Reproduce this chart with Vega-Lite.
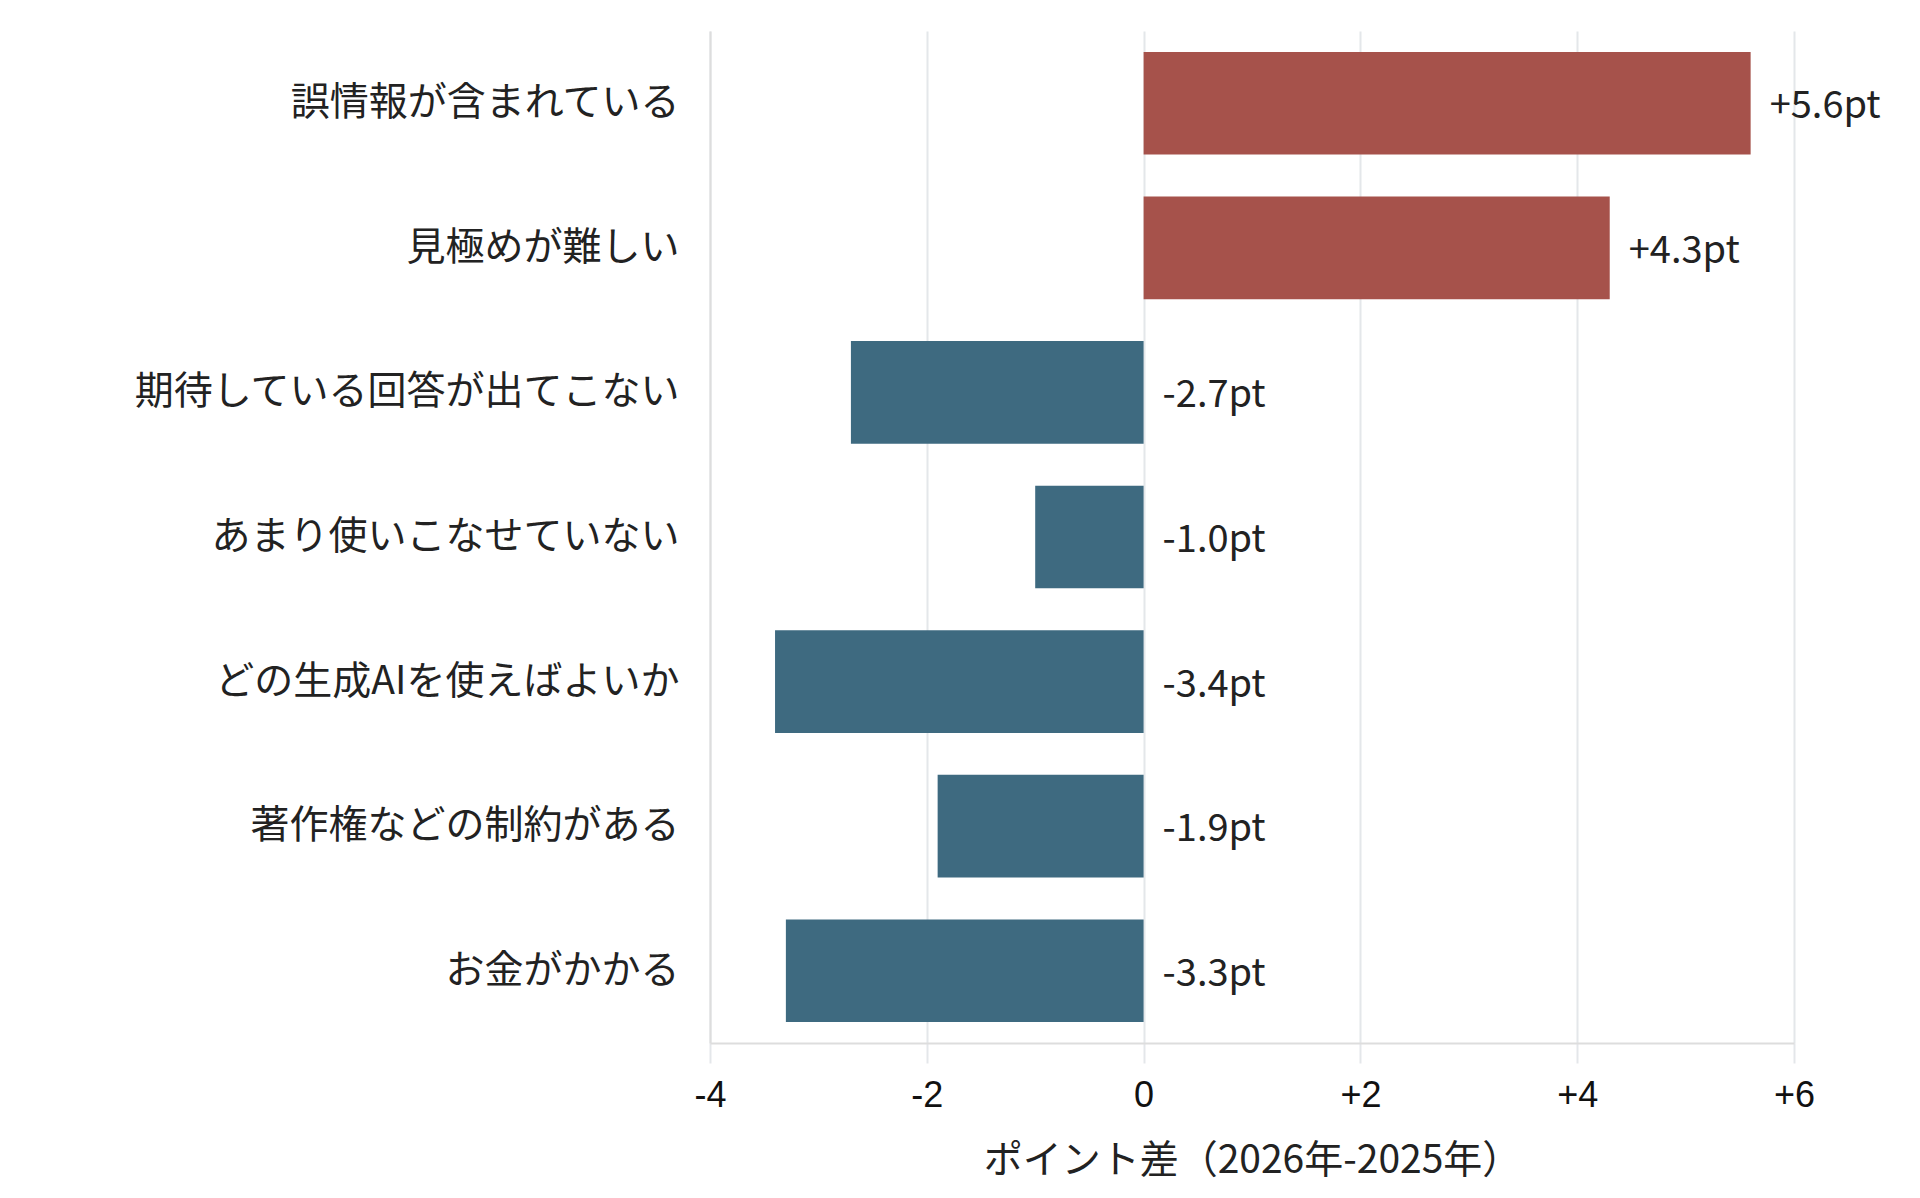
{
  "$schema": "https://vega.github.io/schema/vega-lite/v6.json",
  "width": 1084,
  "height": 1012,
  "autosize": {"type": "none"},
  "padding": {"left": 710, "top": 31, "right": 126, "bottom": 155},
  "background": "white",
  "config": {"view": {"stroke": null}},
  "data": {
    "values": [
      {"item": "誤情報が含まれている", "diff": 5.6},
      {"item": "見極めが難しい", "diff": 4.3},
      {"item": "期待している回答が出てこない", "diff": -2.7},
      {"item": "あまり使いこなせていない", "diff": -1.0},
      {"item": "どの生成AIを使えばよいか", "diff": -3.4},
      {"item": "著作権などの制約がある", "diff": -1.9},
      {"item": "お金がかかる", "diff": -3.3}
    ]
  },
  "transform": [
    {"calculate": "(datum.diff > 0 ? '+' : '-') + format(abs(datum.diff), '.1f') + 'pt'", "as": "label"}
  ],
  "encoding": {
    "y": {
      "field": "item",
      "type": "nominal",
      "sort": null,
      "title": null,
      "scale": {"paddingInner": 0.29, "paddingOuter": 0.145},
      "axis": {
        "ticks": false,
        "domain": true,
        "domainColor": "#dddddd",
        "domainWidth": 2,
        "labelFont": "Noto Sans CJK JP",
        "labelFontSize": 39,
        "labelColor": "#222222",
        "labelPadding": 31,
        "labelLimit": 700
      }
    }
  },
  "layer": [
    {
      "mark": {"type": "bar"},
      "encoding": {
        "x": {
          "field": "diff",
          "type": "quantitative",
          "scale": {"domain": [-4, 6], "nice": false},
          "title": "ポイント差（2026年-2025年）",
          "axis": {
            "values": [-4, -2, 0, 2, 4, 6],
            "labelExpr": "datum.value > 0 ? '+' + datum.value : '' + datum.value",
            "labelFlush": false,
            "grid": true,
            "gridColor": "#e4e7ea",
            "gridWidth": 2,
            "domainColor": "#dddddd",
            "domainWidth": 2,
            "tickColor": "#e4e7ea",
            "tickWidth": 2,
            "tickSize": 20,
            "labelFont": "Liberation Sans",
            "labelFontSize": 36,
            "labelColor": "#111111",
            "labelPadding": 15,
            "titleFont": "Noto Sans CJK JP",
            "titleFontSize": 39,
            "titleFontWeight": "normal",
            "titleColor": "#222222",
            "titlePadding": 28
          }
        },
        "color": {
          "condition": {"test": "datum.diff > 0", "value": "#A6524B"},
          "value": "#3E6A80"
        }
      }
    },
    {
      "transform": [{"filter": "datum.diff > 0"}],
      "mark": {"type": "text", "align": "left", "baseline": "middle", "dx": 19, "dy": 4, "font": "Noto Sans CJK JP", "fontSize": 38, "color": "#222222"},
      "encoding": {
        "x": {"field": "diff", "type": "quantitative"},
        "text": {"field": "label"}
      }
    },
    {
      "transform": [{"filter": "datum.diff <= 0"}],
      "mark": {"type": "text", "align": "left", "baseline": "middle", "dx": 19, "dy": 4, "font": "Noto Sans CJK JP", "fontSize": 38, "color": "#222222"},
      "encoding": {
        "x": {"datum": 0},
        "text": {"field": "label"}
      }
    }
  ]
}
